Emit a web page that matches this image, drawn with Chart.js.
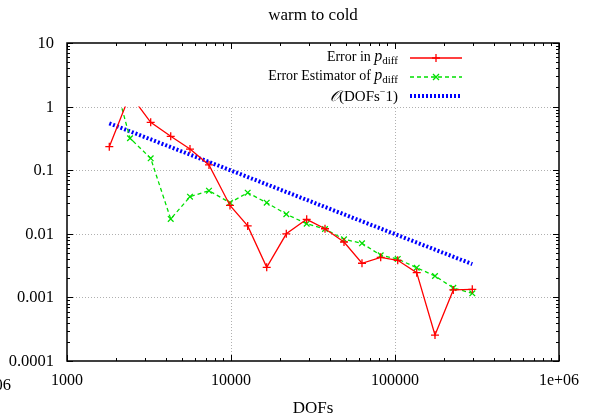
<!DOCTYPE html>
<html>
<head>
<meta charset="utf-8">
<script src="https://cdn.jsdelivr.net/npm/chart.js@4.4.0/dist/chart.umd.min.js"></script>
<style>
  html, body { margin: 0; padding: 0; background: #fff; }
  #wrap { width: 589px; height: 417px; }
</style>
</head>
<body>
<div id="wrap"><canvas id="grafico" width="589" height="417"></canvas></div>
<script>
// Dados
const dofs = [1811, 2422, 3238, 4290, 5623, 7341, 9860, 12640, 16510, 21740,
  28940, 37430, 48870, 62910, 81800, 103900, 135640, 175330, 226700, 296000];
const erroPdiff = [0.234, 1.55, 0.566, 0.341, 0.215, 0.121, 0.0279, 0.0133, 0.00297, 0.0100,
  0.0169, 0.0120, 0.00743, 0.00344, 0.00427, 0.00383, 0.00245, 0.000256, 0.00131, 0.00134];
const estimadorPdiff = [5.2, 0.318, 0.154, 0.0171, 0.0383, 0.0476, 0.0308, 0.0443, 0.0308, 0.0203,
  0.0144, 0.0119, 0.0082, 0.0071, 0.00459, 0.00402, 0.00293, 0.00217, 0.00141, 0.00116];
const refDofs = [1811, 296000];
const refOrdem = [0.546, 0.00334];

const xTicks = [1000, 10000, 100000, 1000000];
const xTickLabels = ['1000', '10000', '100000', '1e+06'];
const yTicks = [10, 1, 0.1, 0.01, 0.001, 0.0001];
const yTickLabels = ['10', '1', '0.1', '0.01', '0.001', '0.0001'];

const FONTE = '"Liberation Serif", "DejaVu Serif", serif';

function pontos(xs, ys) {
  return xs.map((x, i) => ({ x: x, y: ys[i] }));
}

// Desenha texto com partes (itálico, subscrito) alinhado à direita
function textoRico(ctx, partes, xDir, y) {
  let total = 0;
  partes.forEach(p => { ctx.font = p.font; total += ctx.measureText(p.t).width; });
  let x = xDir - total;
  ctx.textAlign = 'left';
  ctx.textBaseline = 'alphabetic';
  partes.forEach(p => {
    ctx.font = p.font;
    ctx.fillText(p.t, x, y + (p.dy || 0));
    x += ctx.measureText(p.t).width;
  });
}

// Plugin com grade, bordas, marcas, textos e legenda no estilo gnuplot
const estiloGnuplot = {
  id: 'estiloGnuplot',
  beforeDraw(chart) {
    const ctx = chart.ctx;
    ctx.save();
    ctx.fillStyle = '#fff';
    ctx.fillRect(0, 0, chart.width, chart.height);
    ctx.restore();
  },
  beforeDatasetsDraw(chart) {
    const ctx = chart.ctx;
    const ca = chart.chartArea;
    const sx = chart.scales.x, sy = chart.scales.y;
    const yUm = sy.getPixelForValue(1);
    // grade pontilhada
    ctx.save();
    ctx.strokeStyle = '#b0b0b0';
    ctx.lineWidth = 1;
    ctx.setLineDash([1, 2]);
    [1, 0.1, 0.01, 0.001].forEach(v => {
      const y = Math.round(sy.getPixelForValue(v)) + 0.5;
      ctx.beginPath(); ctx.moveTo(ca.left, y); ctx.lineTo(ca.right, y); ctx.stroke();
    });
    [10000, 100000].forEach(v => {
      const x = Math.round(sx.getPixelForValue(v)) + 0.5;
      ctx.beginPath(); ctx.moveTo(x, ca.bottom); ctx.lineTo(x, yUm); ctx.stroke();
    });
    ctx.restore();
    // a caixa da legenda cobre a faixa superior
    ctx.save();
    ctx.beginPath();
    ctx.rect(ca.left, yUm, ca.right - ca.left, ca.bottom - yUm);
    ctx.clip();
  },
  afterDatasetsDraw(chart) {
    const ctx = chart.ctx;
    ctx.restore();
    const ca = chart.chartArea;
    const sx = chart.scales.x, sy = chart.scales.y;

    ctx.save();
    ctx.strokeStyle = '#000';
    ctx.lineWidth = 1;
    // marcas nos eixos x
    for (let d = 1000; d <= 1000000; d *= 10) {
      for (let k = 1; k <= 9; k++) {
        const v = k * d;
        if (v > 1000000) break;
        const x = Math.round(sx.getPixelForValue(v)) + 0.5;
        const len = k === 1 ? 6 : 3;
        ctx.beginPath();
        ctx.moveTo(x, ca.bottom); ctx.lineTo(x, ca.bottom - len);
        ctx.moveTo(x, ca.top); ctx.lineTo(x, ca.top + len);
        ctx.stroke();
      }
    }
    // marcas nos eixos y
    for (let d = 0.0001; d <= 10; d *= 10) {
      for (let k = 1; k <= 9; k++) {
        const v = k * d;
        if (v > 10.0001) break;
        const y = Math.round(sy.getPixelForValue(v)) + 0.5;
        const len = k === 1 ? 6 : 3;
        ctx.beginPath();
        ctx.moveTo(ca.left, y); ctx.lineTo(ca.left + len, y);
        ctx.moveTo(ca.right, y); ctx.lineTo(ca.right - len, y);
        ctx.stroke();
      }
    }
    // borda
    ctx.lineWidth = 1.5;
    ctx.strokeRect(ca.left, ca.top, ca.right - ca.left, ca.bottom - ca.top);

    // rótulos
    ctx.fillStyle = '#000';
    ctx.font = '16px ' + FONTE;
    ctx.textAlign = 'center';
    ctx.textBaseline = 'alphabetic';
    xTicks.forEach((v, i) => {
      ctx.fillText(xTickLabels[i], sx.getPixelForValue(v), ca.bottom + 24);
    });
    ctx.textAlign = 'right';
    ctx.font = '16.5px ' + FONTE;
    yTicks.forEach((v, i) => {
      ctx.fillText(yTickLabels[i], ca.left - 13, sy.getPixelForValue(v) + 5);
    });
    ctx.fillText('1e-06', 11, ca.bottom + 29);

    const meio = (ca.left + ca.right) / 2;
    ctx.textAlign = 'center';
    ctx.font = '17px ' + FONTE;
    ctx.fillText('warm to cold', meio, 20);
    ctx.fillText('DOFs', meio, ca.bottom + 52);

    // legenda
    const fN = '14px ' + FONTE, fI = 'italic 16px ' + FONTE, fS = '11px ' + FONTE;
    const xTexto = 398, x0 = 410, x1 = 462, xm = 436;
    const linhas = [58, 77, 96];
    ctx.fillStyle = '#000';
    textoRico(ctx, [{ t: 'Error in ', font: fN }, { t: 'p', font: fI }, { t: 'diff', font: fS, dy: 3 }], xTexto, linhas[0] + 3);
    textoRico(ctx, [{ t: 'Error Estimator of ', font: fN }, { t: 'p', font: fI }, { t: 'diff', font: fS, dy: 3 }], xTexto, linhas[1] + 3);
    textoRico(ctx, [{ t: '\u{1D4AA}', font: 'italic 15px ' + FONTE }, { t: '(DOFs', font: '15px ' + FONTE },
      { t: '\u2212', font: '10px ' + FONTE, dy: -6 }, { t: '1)', font: '15px ' + FONTE }], xTexto, linhas[2] + 5);

    const ds = chart.data.datasets;
    ctx.lineCap = 'butt';
    // vermelho
    ctx.strokeStyle = ds[0].borderColor; ctx.lineWidth = ds[0].borderWidth; ctx.setLineDash([]);
    ctx.beginPath(); ctx.moveTo(x0, linhas[0]); ctx.lineTo(x1, linhas[0]); ctx.stroke();
    ctx.beginPath(); ctx.moveTo(xm - 4, linhas[0]); ctx.lineTo(xm + 4, linhas[0]);
    ctx.moveTo(xm, linhas[0] - 4); ctx.lineTo(xm, linhas[0] + 4); ctx.stroke();
    // verde
    ctx.strokeStyle = ds[1].borderColor; ctx.lineWidth = ds[1].borderWidth; ctx.setLineDash(ds[1].borderDash);
    ctx.beginPath(); ctx.moveTo(x0, linhas[1]); ctx.lineTo(x1, linhas[1]); ctx.stroke();
    ctx.setLineDash([]);
    ctx.beginPath(); ctx.moveTo(xm - 3, linhas[1] - 3); ctx.lineTo(xm + 3, linhas[1] + 3);
    ctx.moveTo(xm - 3, linhas[1] + 3); ctx.lineTo(xm + 3, linhas[1] - 3); ctx.stroke();
    // azul
    ctx.strokeStyle = ds[2].borderColor; ctx.lineWidth = ds[2].borderWidth; ctx.setLineDash(ds[2].borderDash);
    ctx.beginPath(); ctx.moveTo(x0, linhas[2]); ctx.lineTo(x1, linhas[2]); ctx.stroke();
    ctx.restore();
  }
};

const ctx = document.getElementById('grafico').getContext('2d');
const grafico = new Chart(ctx, {
  type: 'line',
  data: {
    datasets: [{
      label: 'Error in p_diff',
      data: pontos(dofs, erroPdiff),
      borderColor: '#ff0000',
      borderWidth: 1.3,
      pointStyle: 'cross',
      pointRadius: 4,
      pointBorderWidth: 1.3,
      pointBorderColor: '#ff0000',
      fill: false,
      tension: 0
    }, {
      label: 'Error Estimator of p_diff',
      data: pontos(dofs, estimadorPdiff),
      borderColor: '#00e000',
      borderWidth: 1.3,
      borderDash: [4, 3],
      pointStyle: 'crossRot',
      pointRadius: 4,
      pointBorderWidth: 1.3,
      pointBorderColor: '#00e000',
      fill: false,
      tension: 0
    }, {
      label: 'O(DOFs^-1)',
      data: pontos(refDofs, refOrdem),
      borderColor: '#0000ff',
      borderWidth: 4,
      borderDash: [2, 2],
      pointRadius: 0,
      fill: false,
      tension: 0
    }]
  },
  options: {
    responsive: false,
    animation: false,
    devicePixelRatio: 1,
    layout: { padding: { left: 67, right: 30, top: 43, bottom: 56 } },
    plugins: {
      legend: { display: false },
      title: { display: false },
      tooltip: { enabled: false }
    },
    scales: {
      x: { type: 'logarithmic', min: 1000, max: 1000000, display: false },
      y: { type: 'logarithmic', min: 0.0001, max: 10, display: false }
    }
  },
  plugins: [estiloGnuplot]
});
</script>
</body>
</html>
